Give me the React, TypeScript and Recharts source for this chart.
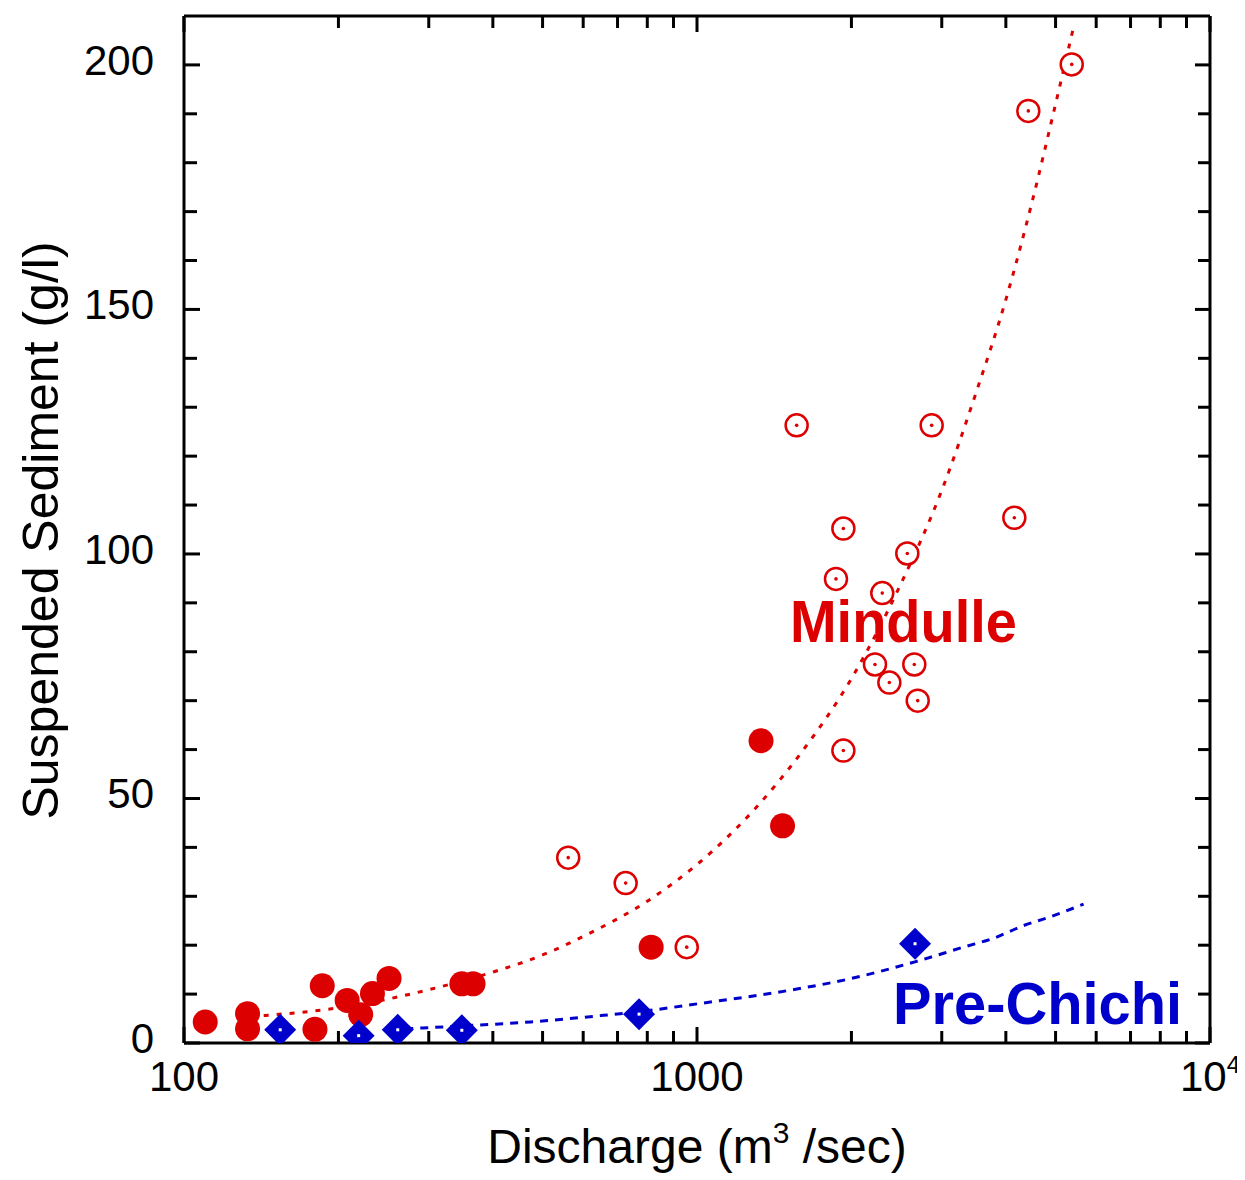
import React from 'react'
import { ComposedChart, XAxis, YAxis, Scatter, Line, ReferenceDot } from 'recharts'

const RED = '#dd0000'
const BLUE = '#0000cc'
const FONT = '"Liberation Sans", Arial, Helvetica, sans-serif'

// Mindulle, filled symbols: discharge (m3/sec) and suspended sediment (g/l)
const mindulleFilledQ = [110, 133, 133, 180, 186, 208, 221, 233, 251, 348, 366, 814, 1333, 1468]
const mindulleFilledS = [4.3, 6.0, 2.9, 2.8, 11.7, 8.7, 5.8, 10.1, 13.2, 12.1, 12.1, 19.6, 61.8, 44.4]

// Mindulle, open symbols
const mindulleOpenQ = [561, 726, 955, 1564, 2867, 1929, 4155, 2570, 1866, 2297, 2223, 2652, 2371, 2693, 1929, 5376, 4424]
const mindulleOpenS = [37.9, 32.7, 19.6, 126.3, 126.3, 105.2, 107.4, 100.1, 94.9, 92.0, 77.4, 77.4, 73.7, 70.0, 59.8, 200.1, 190.6]

// Pre-Chichi diamonds
const preChichiQ = [154, 219, 261, 348, 771, 2661]
const preChichiS = [2.7, 1.5, 2.7, 2.6, 5.9, 20.3]

// rating curves
const mindulleFitQ = [143, 200, 250, 300, 400, 500, 600, 800, 1000, 1300, 1600, 2000, 2500, 3000, 3500, 4000, 4500, 5000, 5400]
const mindulleFitS = [5.6, 7.2, 9.0, 10.9, 14.5, 18.0, 21.8, 29.0, 36.5, 48.0, 59.5, 74.5, 94.0, 113, 133, 152, 172, 192, 207]

const preChichiFitQ = [270, 350, 474, 649, 800, 1000, 1500, 2000, 2660, 3330, 3780, 4330, 4880, 5670]
const preChichiFitS = [2.9, 3.5, 4.3, 5.6, 6.6, 8.0, 10.7, 13.2, 16.6, 19.7, 21.4, 24.0, 25.8, 28.4]

const xTicks = [100, 200, 300, 400, 500, 600, 700, 800, 900, 1000, 2000, 3000, 4000, 5000, 6000, 7000, 8000, 9000, 10000]
const xMajor = [100, 1000, 10000]
const yTicks = [0, 10, 20, 30, 40, 50, 60, 70, 80, 90, 100, 110, 120, 130, 140, 150, 160, 170, 180, 190, 200]
const yMajor = [0, 50, 100, 150, 200]

const pts = (q: number[], s: number[]) => q.map((v, i) => ({ q: v, s: s[i] }))

const BottomTick = (p: any) => {
  const v = p.payload.value
  const major = xMajor.includes(v)
  return (
    <g>
      <line x1={p.x} y1={p.y} x2={p.x} y2={p.y - (major ? 16 : 12)} stroke="#000" strokeWidth={3} />
      {major && (
        <text x={p.x} y={p.y + 48} textAnchor="middle" fontFamily={FONT} fontSize={42} fill="#000">
          {v === 10000 ? (
            <>
              10<tspan dy={-18} fontSize={24}>4</tspan>
            </>
          ) : (
            v
          )}
        </text>
      )}
    </g>
  )
}

const TopTick = (p: any) => {
  const major = xMajor.includes(p.payload.value)
  return <line x1={p.x} y1={p.y} x2={p.x} y2={p.y + (major ? 16 : 12)} stroke="#000" strokeWidth={3} />
}

const LeftTick = (p: any) => {
  const v = p.payload.value
  const major = yMajor.includes(v)
  return (
    <g>
      <line x1={p.x} y1={p.y} x2={p.x + (major ? 16 : 13)} y2={p.y} stroke="#000" strokeWidth={3} />
      {major && (
        <text x={p.x - 30} y={p.y + 10} textAnchor="end" fontFamily={FONT} fontSize={42} fill="#000">
          {v}
        </text>
      )}
    </g>
  )
}

const RightTick = (p: any) => {
  const major = yMajor.includes(p.payload.value)
  return <line x1={p.x} y1={p.y} x2={p.x - (major ? 15 : 12)} y2={p.y} stroke="#000" strokeWidth={3} />
}

const YTitle = (p: any) => {
  const vb = p.viewBox || { x: 0, y: 8, width: 176, height: 1027 }
  const cx = vb.x + 50
  const cy = vb.y + vb.height / 2 + 1
  return (
    <text x={cx} y={cy} transform={`rotate(-90, ${cx}, ${cy})`} textAnchor="middle" fontFamily={FONT} fontSize={50} fill="#000">
      Suspended Sediment (g/l)
    </text>
  )
}

const XTitle = (p: any) => {
  const vb = p.viewBox || { x: 176, y: 1035, width: 1026, height: 137 }
  return (
    <text x={vb.x + vb.width / 2} y={vb.y + 120} textAnchor="middle" fontFamily={FONT} fontSize={48} fill="#000">
      Discharge (m<tspan dy={-20} fontSize={30}>3</tspan>
      <tspan dy={20}> /sec)</tspan>
    </text>
  )
}

const FilledDot = (p: any) => <circle cx={p.cx} cy={p.cy} r={12.5} fill={RED} />

const OpenDot = (p: any) => (
  <g>
    <circle cx={p.cx} cy={p.cy} r={11} fill="#fff" stroke={RED} strokeWidth={2.5} />
    <circle cx={p.cx} cy={p.cy} r={1.8} fill={RED} />
  </g>
)

const Diamond = (p: any) => {
  const { cx, cy } = p
  return (
    <g>
      <polygon points={`${cx},${cy - 16} ${cx + 16},${cy} ${cx},${cy + 16} ${cx - 16},${cy}`} fill={BLUE} />
      <rect x={cx - 1.5} y={cy - 1.5} width={3} height={3} fill="#fff" />
    </g>
  )
}

const AnnoText = (text: string, color: string, len: number) => (p: any) => (
  <text x={p.cx} y={p.cy} fontFamily={FONT} fontWeight="bold" fontSize={60} fill={color} textLength={len} lengthAdjust="spacingAndGlyphs">
    {text}
  </text>
)

export default function App() {
  return (
    <ComposedChart width={1237} height={1172} margin={{ top: 7, right: 34, bottom: 0, left: 0 }}>
      <XAxis
        dataKey="q"
        type="number"
        scale="log"
        domain={[100, 10000]}
        allowDataOverflow
        ticks={xTicks}
        interval={0}
        height={137}
        tickSize={0}
        tickMargin={0}
        tickLine={false}
        axisLine={{ stroke: '#000', strokeWidth: 3 }}
        tick={BottomTick}
        label={(p: any) => <XTitle {...p} />}
      />
      <XAxis
        xAxisId="top"
        orientation="top"
        dataKey="q"
        type="number"
        scale="log"
        domain={[100, 10000]}
        allowDataOverflow
        ticks={xTicks}
        interval={0}
        height={1}
        tickSize={0}
        tickMargin={0}
        tickLine={false}
        axisLine={{ stroke: '#000', strokeWidth: 3 }}
        tick={TopTick}
      />
      <YAxis
        dataKey="s"
        type="number"
        domain={[0, 210]}
        allowDataOverflow
        ticks={yTicks}
        interval={0}
        width={176}
        tickSize={0}
        tickMargin={0}
        tickLine={false}
        axisLine={{ stroke: '#000', strokeWidth: 3 }}
        tick={LeftTick}
        label={(p: any) => <YTitle {...p} />}
      />
      <YAxis
        yAxisId="right"
        orientation="right"
        dataKey="s"
        type="number"
        domain={[0, 210]}
        allowDataOverflow
        ticks={yTicks}
        interval={0}
        width={1}
        tickSize={0}
        tickMargin={0}
        tickLine={false}
        axisLine={{ stroke: '#000', strokeWidth: 3 }}
        tick={RightTick}
      />
      <Line
        data={pts(mindulleFitQ, mindulleFitS)}
        dataKey="s"
        type="monotone"
        stroke={RED}
        strokeWidth={3}
        strokeDasharray="5 8"
        dot={false}
        activeDot={false}
        isAnimationActive={false}
      />
      <Line
        data={pts(preChichiFitQ, preChichiFitS)}
        dataKey="s"
        type="monotone"
        stroke={BLUE}
        strokeWidth={3}
        strokeDasharray="8 7"
        dot={false}
        activeDot={false}
        isAnimationActive={false}
      />
      <Scatter data={pts(mindulleFilledQ, mindulleFilledS)} dataKey="s" shape={FilledDot} isAnimationActive={false} />
      <Scatter data={pts(mindulleOpenQ, mindulleOpenS)} dataKey="s" shape={OpenDot} isAnimationActive={false} />
      <Scatter data={pts(preChichiQ, preChichiS)} dataKey="s" shape={Diamond} isAnimationActive={false} />
      <ReferenceDot x={1518} y={81.9} r={0} shape={AnnoText('Mindulle', RED, 227)} />
      <ReferenceDot x={2411} y={3.9} r={0} shape={AnnoText('Pre-Chichi', BLUE, 289)} />
    </ComposedChart>
  )
}
